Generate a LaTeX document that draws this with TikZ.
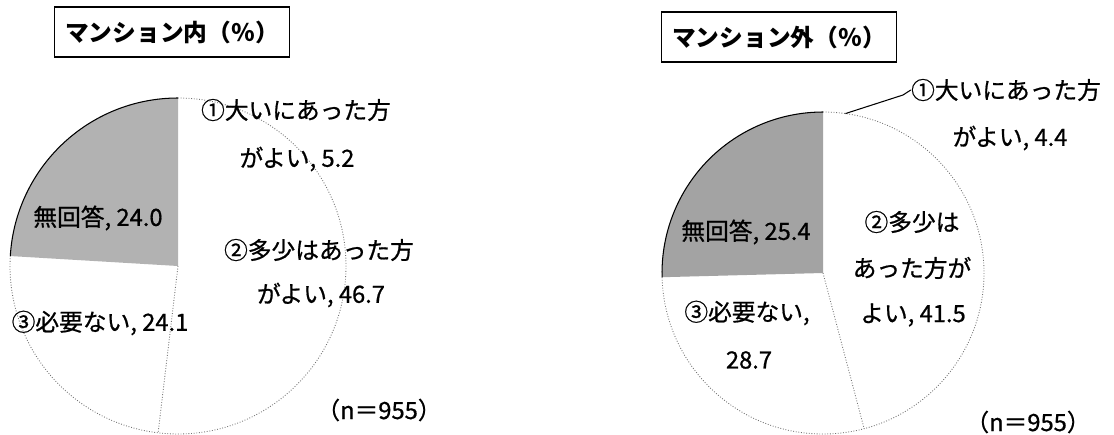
\documentclass[tikz,border=0pt]{standalone}
\usepackage{fontspec}
\setmainfont{Noto Sans CJK JP}
\newfontfamily\midfont{Noto Sans CJK JP}[FakeBold=0.8]
\begin{document}
\begin{tikzpicture}[x=0.02cm,y=0.02cm,
  nore/.style={fill=black!#1},
  rim/.style={draw=black,line width=0.6pt},
  faint/.style={draw=black!55,densely dotted,line width=0.5pt},
  lbl/.style={font=\midfont\fontsize{13.5}{16}\selectfont,inner sep=0pt},
  ttl/.style={draw,line width=0.6pt,minimum width=4.7cm,minimum height=1cm,
    font=\bfseries\fontsize{13.5}{16}\selectfont}]
\useasboundingbox (0,0) rectangle (1114,434);
% left pie: マンション内
\node[ttl] (tin) at (172,402) {マンション内（％）};
\coordinate (cin) at (178,168);
\fill[nore=30] (cin) -- ++(176.6:168) arc[start angle=176.6,end angle=90,radius=168] -- cycle;
\draw[rim] (cin) ++(176.6:168) arc[start angle=176.6,end angle=90,radius=168];
\draw[faint] (cin) ++(90:168) arc[start angle=90,end angle=-183.4,radius=168];
\draw[faint] (cin) -- ++(-96.8:168);
\node[lbl] (in1a) at (296,324) {①大いにあった方};
\node[lbl] (in1b) at (297,275) {がよい, 5.2};
\node[lbl] (in2a) at (319,184) {②多少はあった方};
\node[lbl] (in2b) at (321,139) {がよい, 46.7};
\node[lbl] (in3) at (100,111) {③必要ない, 24.1};
\node[lbl] (in0) at (98,216) {無回答, 24.0};
\node[lbl] (inn) at (379,24) {（n＝955）};
% right pie: マンション外
\node[ttl] (tout) at (779,397) {マンション外（％）};
\coordinate (cout) at (823,161);
\fill[nore=36] (cout) -- ++(181.5:161) arc[start angle=181.5,end angle=90,radius=161] -- cycle;
\draw[rim] (cout) ++(181.5:161) arc[start angle=181.5,end angle=90,radius=161];
\draw[faint] (cout) ++(90:161) arc[start angle=90,end angle=-178.5,radius=161];
\draw[faint] (cout) -- ++(-75.2:161);
\node[lbl] (out1a) at (1006,344) {①大いにあった方};
\node[lbl] (out1b) at (1010,296) {がよい, 4.4};
\node[lbl] (out2a) at (912,212) {②多少は};
\node[lbl] (out2b) at (912,166) {あった方が};
\node[lbl] (out2c) at (913,119) {よい, 41.5};
\node[lbl] (out3a) at (747,121) {③必要ない,};
\node[lbl] (out3b) at (749,74) {28.7};
\node[lbl] (out0) at (746,202) {無回答, 25.4};
\node[lbl] (outn) at (1028,12) {（n＝955）};
\coordinate (lead) at ([shift={(cout)}]82:161);
\coordinate (bend) at (903,339);
\draw[line width=0.6pt] (lead) -- (bend) -- (out1a.west);
\end{tikzpicture}
\end{document}
